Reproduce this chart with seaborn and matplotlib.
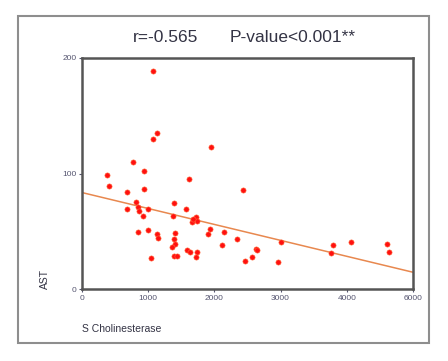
import numpy as np
import pandas as pd
import matplotlib
matplotlib.use("Agg")
import matplotlib.pyplot as plt
import seaborn as sns
from matplotlib.patches import Rectangle

# Data
cholinesterase = [1068, 1138, 1068, 765, 383, 941, 1621, 408, 941, 675,
                  1949, 2427, 821, 851, 675, 866, 1002, 926, 1385, 1576,
                  1380, 1717, 1742, 1657, 1681, 846, 997, 1128, 1153, 1410,
                  1390, 1410, 1360, 1395, 1430, 1581, 1631, 1742, 1717, 1037,
                  1903, 1934, 2150, 2120, 2341, 2467, 2568, 2623, 2639, 2966,
                  3001, 3797, 3761, 4058, 4602, 4642]
ast = [189, 135, 130, 110, 99, 102, 95.5, 89, 87, 84,
       123, 85.7, 75, 71, 69, 67.5, 69, 63, 74.5, 69.5,
       63.5, 62.6, 59, 58, 61, 49, 51.3, 47.3, 44, 48.7,
       43.6, 39, 36, 28.6, 28.6, 34, 31.7, 32, 28, 26.8,
       48, 52, 49.6, 38.4, 43.3, 24.2, 27.7, 34.4, 33.8, 23,
       40.4, 38, 31.4, 41, 38.7, 32]

# fitted regression line endpoints
fit_x = [0, 5000]
fit_y = [83.5, 14.5]

x_ticks = [0, 1000, 2000, 3000, 4000, 5000]
x_tick_labels = ["0", "1000", "2000", "3000", "4000", "6000"]
y_ticks = [0, 100, 200]

df = pd.DataFrame({"S Cholinesterase": cholinesterase, "AST": ast})
fit_df = pd.DataFrame({"x": fit_x, "y": fit_y})

sns.set_style("white")
plt.rcParams["font.family"] = ["Liberation Sans", "DejaVu Sans"]

fig = plt.figure(figsize=(4.48, 3.61), dpi=100)
ax = fig.add_axes([82 / 448, 1 - 289 / 361, 331 / 448, 231 / 361])

# outer frame around the whole chart
fig.patches.append(Rectangle((18 / 448, 1 - 343 / 361), 411 / 448, 327 / 361,
                             transform=fig.transFigure, fill=False,
                             edgecolor="#8e8e8e", linewidth=1.5))

sns.lineplot(data=fit_df, x="x", y="y", ax=ax, color="#e8884f", linewidth=1.1)
sns.scatterplot(data=df, x="S Cholinesterase", y="AST", ax=ax, color="#ff1010",
                s=14, edgecolor="#ff6a3a", linewidth=0.4, zorder=3)

ax.set_xlim(0, 5000)
ax.set_ylim(0, 200)
ax.set_xticks(x_ticks)
ax.set_xticklabels(x_tick_labels)
ax.set_yticks(y_ticks)
ax.tick_params(axis="both", labelsize=6, length=2, width=0.8, pad=2,
               colors="#555570", direction="out")
ax.tick_params(bottom=True, left=True)
for side in ["left", "bottom", "top", "right"]:
    ax.spines[side].set_color("#555555")
    ax.spines[side].set_linewidth(1.8)
ax.set_xlabel("")
ax.set_ylabel("")

fig.text(45 / 448, 1 - 279 / 361, "AST", rotation=90, ha="center", va="center",
         fontsize=7.5, color="#333344")
fig.text(82 / 448, 1 - 329 / 361, "S Cholinesterase", ha="left", va="center",
         fontsize=7.5, color="#333344")
fig.text(133 / 448, 1 - 37 / 361, "r=-0.565", ha="left", va="center",
         fontsize=12.5, color="#333344")
fig.text(230 / 448, 1 - 37 / 361, "P-value<0.001**", ha="left", va="center",
         fontsize=12.5, color="#333344")

fig.savefig("out.png", dpi=100)
